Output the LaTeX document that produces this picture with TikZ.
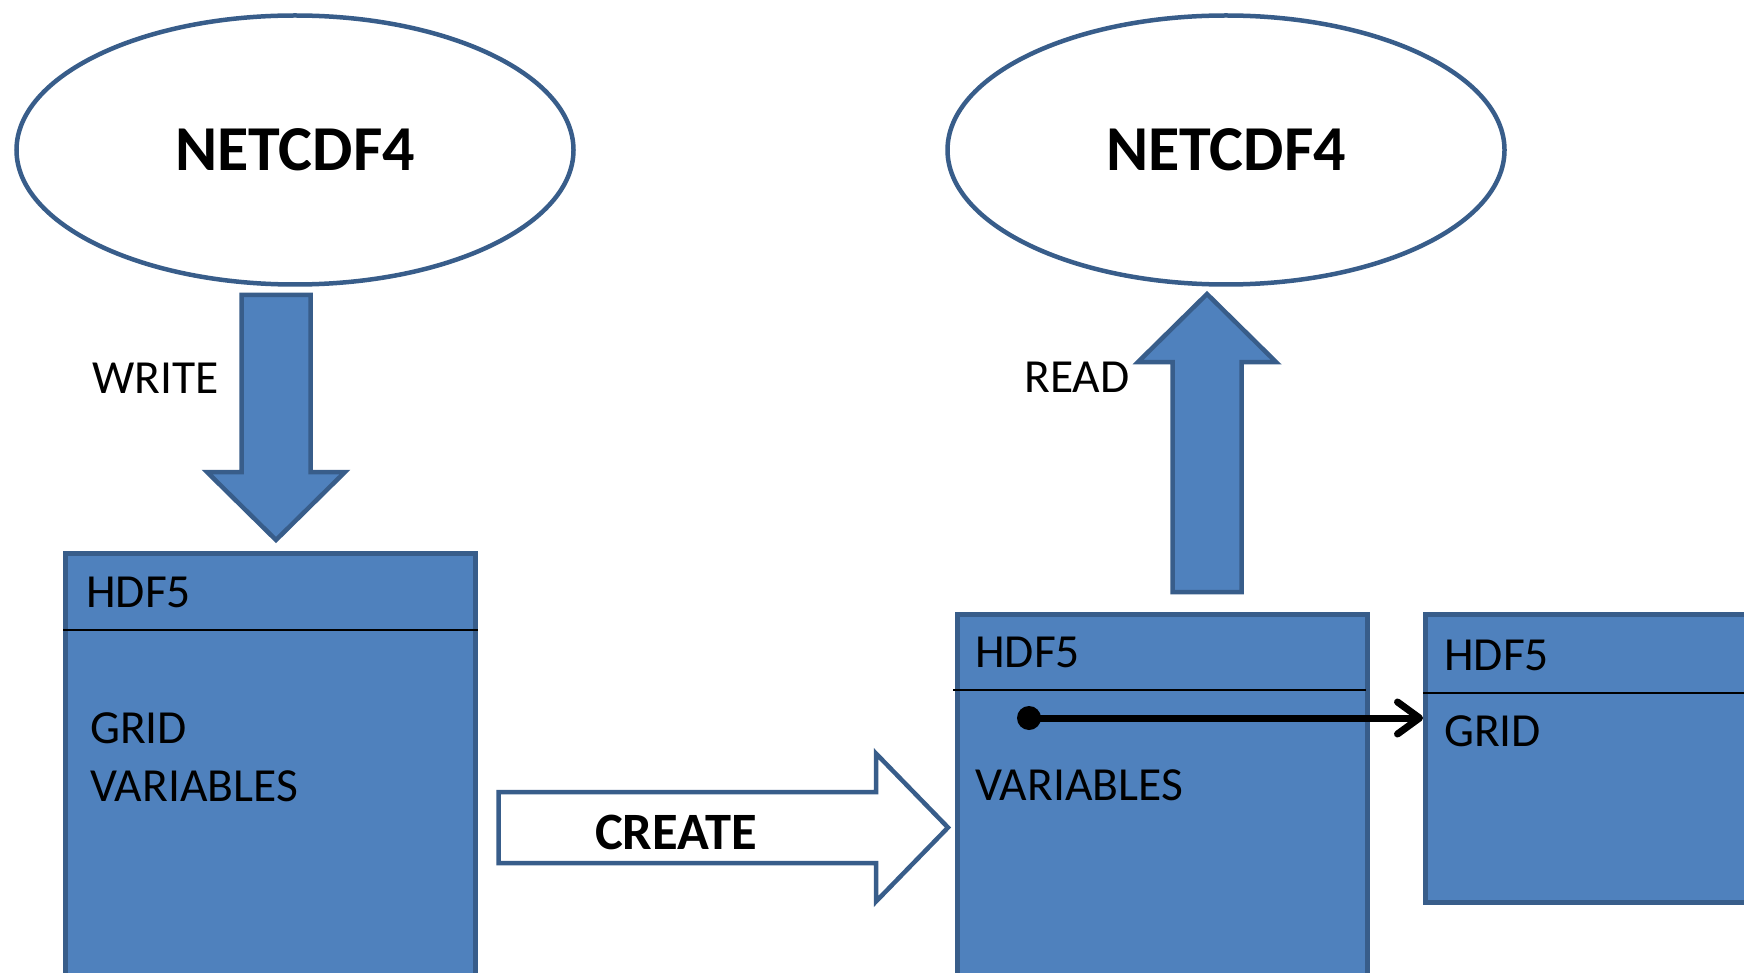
\documentclass[tikz,border=0pt]{standalone}
\usepackage{fontspec}
\setmainfont{Carlito}
\usetikzlibrary{shapes.geometric, arrows.meta, calc}
\definecolor{boxfill}{HTML}{4F81BD}
\definecolor{boxline}{HTML}{385D8A}

\begin{document}
\begin{tikzpicture}[x=1pt, y=-1pt,
  oval/.style={ellipse, draw=boxline, line width=4.5pt, fill=white,
    minimum width=557pt, minimum height=269pt, inner sep=0pt,
    font=\fontsize{64}{64}\selectfont\bfseries},
  hdfbox/.style={rectangle, draw=boxline, fill=boxfill, line width=4.5pt,
    minimum width=410pt, anchor=north west, inner sep=0pt},
  blockarrow/.style={draw=boxline, fill=boxfill, line width=4.5pt, line join=miter},
  label/.style={font=\fontsize{47.5}{47.5}\selectfont, anchor=base west, inner sep=0pt},
  divider/.style={black, line width=2pt}]
\clip (0,0) rectangle (1744,973);
\fill[white] (0,0) rectangle (1744,973);

% NetCDF-4 layer
\node[oval] (ncw) at (295,150) {NETCDF4};
\node[oval] (ncr) at (1226,150) {NETCDF4};

% HDF5 files
\node[hdfbox, minimum height=500pt] (h1) at (63,551) {};
\node[hdfbox, minimum height=500pt] (h2) at (955,612) {};
\node[hdfbox, minimum height=288pt] (h3) at (1423,612) {};

\draw[divider] ($(h1.north west)+(0,79)$) -- ($(h1.north east)+(0,79)$);
\draw[divider] ($(h2.north west)+(-2,78)$) -- ($(h2.north east)+(-4,78)$);
\draw[divider] ($(h3.north west)+(0,81)$) -- ($(h3.north east)+(0,81)$);

\node[label] (h1t) at (86,607) {HDF5};
\node[label] (h1g) at (90,743) {GRID};
\node[label] (h1v) at (90,801) {VARIABLES};
\node[label] (h2t) at (975,667) {HDF5};
\node[label] (h2v) at (975,800) {VARIABLES};
\node[label] (h3t) at (1444,670) {HDF5};
\node[label] (h3g) at (1444,746) {GRID};

% write / read block arrows
\draw[blockarrow] (241.5,295) -- (310.5,295) -- (310.5,472) -- (345,472)
  -- (276,540) -- (207,472) -- (241.5,472) -- cycle;
\node[label] (wr) at (92,393) {WRITE};

\draw[blockarrow] (1172.5,592) -- (1172.5,362) -- (1138,362) -- (1207,294)
  -- (1276,362) -- (1241.5,362) -- (1241.5,592) -- cycle;
\node[label] (rd) at (1024,392) {READ};

% create arrow
\draw[blockarrow, fill=white] (498.5,792) -- (876,792) -- (876,753.5)
  -- (948,827.5) -- (876,901.5) -- (876,863) -- (498.5,863) -- cycle;
\node[font=\fontsize{52.5}{52.5}\selectfont\bfseries, anchor=base, inner sep=0pt] (cr) at (676,849) {CREATE};

% link from the variables file to the grid file
\node[circle, fill=black, inner sep=0pt, minimum size=24pt] (dot) at (1029,718) {};
\draw[line width=7pt, -{Straight Barb[length=22pt, width=32pt, round]}]
  (dot.center) -- (h3.west |- dot);
\end{tikzpicture}
\end{document}
